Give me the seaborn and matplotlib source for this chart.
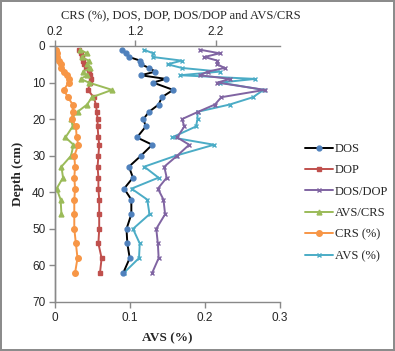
import numpy as np
import pandas as pd
import seaborn as sns
import matplotlib.pyplot as plt

# depth of each sample (cm)
depth = [1, 2, 3, 4, 5, 6, 7, 8, 9, 10, 12, 14, 16, 18, 20, 22, 25, 27, 30,
         33, 36, 39, 42, 46, 50, 54, 58, 62]

# top axis series
dos = [1.03, 1.08, 1.12, 1.26, 1.27, 1.37, 1.45, 1.27, 1.58, 1.42, 1.67, 1.53,
       1.49, 1.37, 1.30, 1.33, 1.22, 1.41, 1.27, 1.12, 1.17, 1.06, 1.15, 1.15,
       1.09, 1.10, 1.13, 1.05]
dop = [0.50, 0.52, 0.54, 0.55, 0.56, 0.58, 0.62, 0.64, 0.65, 0.64, 0.61, 0.68,
       0.71, 0.72, 0.73, 0.73, 0.74, 0.75, 0.74, 0.73, 0.74, 0.74, 0.75, 0.75,
       0.75, 0.74, 0.78, 0.76]
dos_dop = [2.00, 2.25, 2.06, 2.22, 2.22, 2.31, 2.10, 2.00, 2.38, 2.22, 2.81, 2.27,
           2.19, 1.98, 1.78, 1.81, 1.72, 1.87, 1.72, 1.56, 1.59, 1.48, 1.55, 1.57,
           1.46, 1.48, 1.49, 1.41]
avs_crs = [0.51, 0.60, 0.53, 0.62, 0.60, 0.64, 0.55, 0.60, 0.52, 0.62, 0.91, 0.66,
           0.60, 0.48, 0.40, 0.42, 0.33, 0.43, 0.40, 0.28, 0.30, 0.22, 0.27, 0.28]
crs = [0.21, 0.22, 0.22, 0.25, 0.27, 0.27, 0.31, 0.35, 0.37, 0.37, 0.31, 0.36,
       0.42, 0.42, 0.41, 0.46, 0.47, 0.49, 0.44, 0.45, 0.44, 0.45, 0.44, 0.44,
       0.44, 0.46, 0.48, 0.45]

# bottom axis series
avs = [0.118, 0.131, 0.130, 0.169, 0.150, 0.169, 0.220, 0.167, 0.267, 0.220,
       0.278, 0.264, 0.233, 0.190, 0.190, 0.188, 0.156, 0.212, 0.161, 0.119,
       0.138, 0.102, 0.123, 0.126, 0.104, 0.113, 0.112, 0.092]

top_ticks = [0.2, 1.2, 2.2]
bottom_ticks = [0, 0.1, 0.2, 0.3]
depth_ticks = [0, 10, 20, 30, 40, 50, 60, 70]

sns.set_style("white")
plt.rcParams['font.family'] = ['Liberation Sans', 'DejaVu Sans']
serif = 'Liberation Serif'
axis_grey = '#898989'

fig = plt.figure(figsize=(3.95, 3.51), dpi=100)
fig.patch.set_edgecolor('#8c8c8c')
fig.patch.set_linewidth(1.5)
ax = fig.add_axes([55/395, 1 - 302/351, 225/395, 256/351])
ax2 = ax.twiny()

def draw(axis, vals, label, color, marker, ms, mfc=None, lc=None):
    d = depth[:len(vals)]
    sns.lineplot(x=vals, y=d, ax=axis, sort=False, estimator=None, orient='y',
                 color=lc or color, marker=marker, markersize=ms,
                 markerfacecolor=mfc or color, markeredgecolor=mfc or color,
                 markeredgewidth=1, linewidth=1.4, label=label)

draw(ax2, dos, 'DOS', '#4F81BD', 'o', 3.5, mfc='#4F81BD', lc='black')
draw(ax2, dop, 'DOP', '#C0504D', 's', 3)
draw(ax2, dos_dop, 'DOS/DOP', '#8064A2', 'x', 3.5)
draw(ax2, avs_crs, 'AVS/CRS', '#9BBB59', '^', 3.5)
draw(ax2, crs, 'CRS (%)', '#F79646', 'o', 4)
draw(ax, avs, 'AVS (%)', '#4BACC6', 'x', 3.5)

h1, l1 = ax2.get_legend_handles_labels()
h0, l0 = ax.get_legend_handles_labels()
ax.get_legend().remove()
ax2.get_legend().remove()
fig.legend(h1 + h0, l1 + l0, loc='upper left', bbox_to_anchor=(300/395, 1 - 138/351),
           frameon=False, prop={'family': serif, 'size': 9}, handlelength=2.2,
           labelspacing=0.75, handletextpad=0.2, borderaxespad=0)

ax.set_ylim(70, 0)
ax.set_yticks(depth_ticks)
ax.set_xlim(0, 0.3)
ax.set_xticks(bottom_ticks)
ax.set_xticklabels(['0', '0.1', '0.2', '0.3'])
ax2.set_xlim(0.2, 3.0)
ax2.set_xticks(top_ticks)
ax2.set_xticklabels(['0.2', '1.2', '2.2'])

for a in (ax, ax2):
    for s in a.spines.values():
        s.set_color(axis_grey)
        s.set_linewidth(1)
    a.spines['right'].set_visible(False)
    a.tick_params(length=4, width=1, color=axis_grey, labelsize=8.5, direction='out')
ax.spines['top'].set_visible(False)
ax2.spines['bottom'].set_visible(False)
ax.tick_params(axis='x', bottom=True, pad=3)
ax.tick_params(axis='y', left=True, pad=3)
ax2.tick_params(axis='x', top=True, pad=2)

ax.set_ylabel('Depth (cm)', family=serif, fontsize=9.5, fontweight='bold', labelpad=6)
ax.set_xlabel('AVS (%)', family=serif, fontsize=9.5, fontweight='bold', labelpad=6)
ax2.set_xlabel('CRS (%), DOS, DOP, DOS/DOP and AVS/CRS', family=serif, fontsize=9,
               labelpad=5)
ax2.xaxis.set_label_coords(0.56, 1.11)

fig.savefig('out.png', dpi=100)
